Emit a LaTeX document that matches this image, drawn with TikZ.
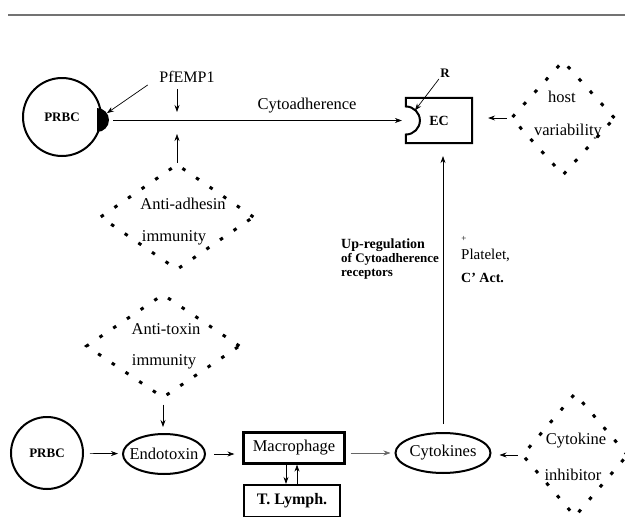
\documentclass[tikz,border=0pt]{standalone}
\usepackage{fontspec}
\setmainfont{Liberation Serif}
\usetikzlibrary{shapes.geometric,arrows.meta}

\begin{document}
\begin{tikzpicture}[x=1pt, y=1pt,
    cell/.style={draw, circle, line width=2pt, inner sep=0pt,
        font=\fontsize{13}{15}\selectfont\bfseries},
    oval/.style={draw, ellipse, line width=2pt, inner xsep=-8pt, inner ysep=0pt,
        font=\fontsize{16.5}{18}\selectfont},
    box/.style={draw, rectangle, line width=2.2pt, inner sep=0pt},
    dotbox/.style={draw, diamond, line width=3pt, dash pattern=on 3.5pt off 13pt, inner sep=0pt},
    txt/.style={inner sep=0pt, font=\fontsize{16.5}{18}\selectfont},
    boldtxt/.style={inner sep=0pt, font=\fontsize{13}{15}\selectfont\bfseries},
    arr/.style={-{Stealth[length=7pt,width=5pt]}, line width=0.7pt}]

    % Khung hình
    \useasboundingbox (0,0) rectangle (625,-517);
    \clip (0,0) rectangle (625,-517);
    \draw[black!55, line width=2pt] (8,-15) -- (625,-15);

    % Hàng trên: PRBC bám vào EC
    \node[cell, minimum size=78pt] (prbcTop) at (62,-117) {PRBC};
    \coordinate (blob) at ([shift={(-5,-3)}]prbcTop.east);
    \fill (blob) ++(0,12) arc[start angle=90, end angle=-90, radius=12] -- cycle;
    \node[txt, font=\fontsize{16}{18}\selectfont] (pflabel) at (187,-77) {PfEMP1};

    \node[box, draw=none, minimum width=64pt, minimum height=43pt,
        font=\fontsize{14}{16}\selectfont\bfseries] (ec) at (439,-120.5) {EC};
    \draw[line width=2pt] ([yshift=-14pt]ec.west) arc[start angle=-90, end angle=90, radius=14]
        -- (ec.north west) -- (ec.north east) -- (ec.south east) -- (ec.south west) -- cycle;
    \node[boldtxt] (rlabel) at (445,-73) {R};

    \node[txt] (cytoadh) at (307,-106) {Cytoadherence};
    \coordinate (pfhit) at (177,-112);
    \coordinate (adhhit) at (177,-134);

    \draw[arr, shorten <=14pt, shorten >=12pt] (pflabel.west) -- (blob);
    \draw[arr, shorten <=6pt] (pfhit |- pflabel.south) -- (pfhit);
    \draw[arr, line width=0.6pt, shorten <=16pt, shorten >=4pt] (blob |- ec.west) -- (ec.west);
    \draw[arr, shorten <=2pt] (rlabel.south west) -- ([shift={(9,10)}]ec.west);

    % Các hình thoi chấm
    \node[dotbox, minimum width=154pt, minimum height=106pt] (antiadh) at (177,-217) {};
    \node[txt] (antiadhA) at ([shift={(6,13)}]antiadh.center) {Anti-adhesin};
    \node[txt] (antiadhB) at ([shift={(-3,-21)}]antiadh.center) {immunity};
    \draw[arr, line width=0.6pt] (antiadh.north) -- (adhhit);

    \node[dotbox, minimum width=154pt, minimum height=104pt] (antitox) at (163,-346) {};
    \node[txt] (antitoxA) at ([shift={(3,17)}]antitox.center) {Anti-toxin};
    \node[txt] (antitoxB) at ([shift={(1,-16)}]antitox.center) {immunity};

    \node[dotbox, minimum width=104pt, minimum height=115pt] (hostvar) at (563,-118) {};
    \node[txt] (hostvarA) at ([shift={(-1,21)}]hostvar.center) {host};
    \node[txt] (hostvarB) at ([shift={(5,-14)}]hostvar.center) {variability};

    \node[dotbox, minimum width=106pt, minimum height=124pt] (cytoinh) at (575,-455) {};
    \node[txt] (cytoinhA) at ([shift={(1,14)}]cytoinh.center) {Cytokine};
    \node[txt] (cytoinhB) at ([shift={(-2,-20)}]cytoinh.center) {inhibitor};

    % Hàng dưới
    \node[cell, minimum size=72pt] (prbcBot) at (47,-453) {PRBC};
    \node[oval, minimum width=82pt, minimum height=40pt] (endo) at (164,-454) {Endotoxin};
    \node[box, minimum width=101pt, minimum height=31pt, font=\fontsize{16.5}{18}\selectfont] (macro) at (294,-448) {Macrophage};
    \node[box, minimum width=96pt, minimum height=32pt, font=\fontsize{16}{18}\selectfont\bfseries] (tlymph) at (292,-501) {T. Lymph.};
    \node[oval, minimum width=95pt, minimum height=40pt] (cyto) at (443,-453) {Cytokines};

    \draw[arr, shorten <=6pt, shorten >=4pt] (prbcBot) -- (endo);
    \draw[arr, shorten <=5pt, shorten >=6pt] (antitox.south) -- (antitox.south |- endo.north);
    \draw[arr, shorten <=8pt, shorten >=8pt] (endo.east) -- (endo.east -| macro.west);
    \draw[arr, black!60, line width=0.6pt, shorten <=5pt, shorten >=4pt] (macro.east |- cyto.west) -- (cyto.west);
    \draw[arr] ([xshift=-8pt]macro.south) -- ([xshift=-6pt]tlymph.north);
    \draw[arr] ([xshift=5pt]tlymph.north) -- ([xshift=3pt]macro.south);
    \draw[arr, shorten <=3pt, shorten >=8pt] (cytoinh.west) -- (cytoinh.west -| cyto.east);
    \draw[arr, shorten <=3pt, shorten >=16pt] (hostvar.west) -- (hostvar.west -| ec.east);
    \draw[arr, line width=0.6pt, shorten <=8pt, shorten >=13pt] (cyto.north) -- (cyto.north |- ec.south);

    % Nhãn bên đường dọc
    \node[boldtxt, anchor=west, font=\fontsize{14}{16}\selectfont\bfseries] (upreg) at (341,-245) {Up-regulation};
    \node[boldtxt, anchor=west] (upregB) at (341,-259) {of Cytoadherence};
    \node[boldtxt, anchor=west] (upregC) at (341,-274) {receptors};
    \node[txt, font=\fontsize{9}{10}\selectfont] (plus) at (464,-239) {+};
    \node[txt, anchor=west, font=\fontsize{15}{17}\selectfont] (platelet) at (461,-255) {Platelet,};
    \node[boldtxt, anchor=west, font=\fontsize{14}{16}\selectfont\bfseries] (cact) at (461,-278) {C' Act.};
\end{tikzpicture}
\end{document}
